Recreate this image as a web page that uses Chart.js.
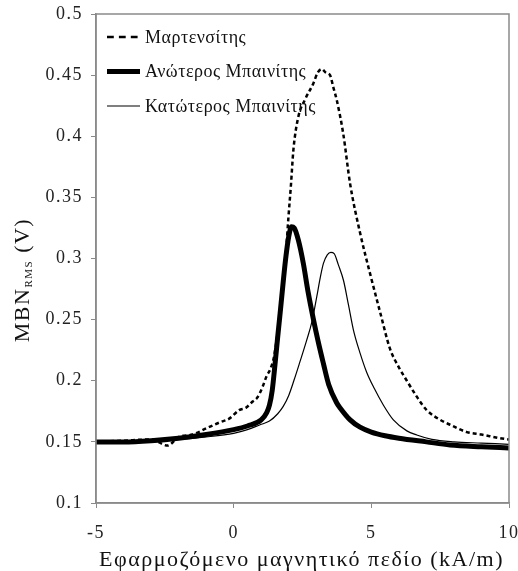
<!DOCTYPE html>
<html lang="el">
<head>
<meta charset="UTF-8">
<title>MBN RMS</title>
<script src="https://cdn.jsdelivr.net/npm/chart.js@4.4.1/dist/chart.umd.min.js"></script>
<style>
  body { margin: 0; background: #fff; }
  #wrap { width: 518px; height: 571px; }
</style>
</head>
<body>
<div id="wrap"><canvas id="mbnChart" width="518" height="571"></canvas></div>
<script>
// Μαρτενσίτης (dashed)
const martX = [-5, -4, -3, -2.4, -2, -1.5, -1, -0.5, -0.16, 0.2, 0.45, 0.69, 0.85, 1.05, 1.2, 1.32, 1.45, 1.6, 1.75, 1.9, 1.99, 2.08, 2.17, 2.35, 2.59, 2.89, 3.05, 3.2, 3.35, 3.5, 3.62, 3.74, 3.98, 4.23, 4.59, 4.95, 5.32, 5.68, 6.0, 6.29, 6.65, 7.01, 7.5, 7.86, 8.47, 9.0, 9.68, 10];
const martY = [0.150, 0.151, 0.152, 0.147, 0.154, 0.156, 0.161, 0.166, 0.169, 0.176, 0.178, 0.183, 0.186, 0.195, 0.204, 0.209, 0.218, 0.240, 0.270, 0.305, 0.334, 0.360, 0.389, 0.416, 0.430, 0.443, 0.452, 0.455, 0.452, 0.450, 0.440, 0.430, 0.402, 0.361, 0.321, 0.288, 0.256, 0.226, 0.211, 0.200, 0.187, 0.176, 0.168, 0.164, 0.158, 0.156, 0.153, 0.152];

// Ανώτερος Μπαινίτης (thick)
const upperX = [-5, -4, -3, -2, -1, 0, 0.5, 1.0, 1.2, 1.3, 1.4, 1.5, 1.6, 1.7, 1.8, 1.9, 2.0, 2.1, 2.2, 2.35, 2.53, 2.7, 2.89, 3.07, 3.26, 3.45, 3.74, 3.86, 4.23, 4.59, 5, 5.5, 6, 7, 7.86, 9, 10];
const upperY = [0.150, 0.150, 0.151, 0.153, 0.156, 0.160, 0.163, 0.168, 0.174, 0.180, 0.192, 0.213, 0.236, 0.258, 0.281, 0.302, 0.318, 0.326, 0.325, 0.315, 0.296, 0.273, 0.251, 0.232, 0.214, 0.197, 0.182, 0.178, 0.168, 0.162, 0.158, 0.155, 0.153, 0.150, 0.1475, 0.146, 0.145];

// Κατώτερος Μπαινίτης (thin)
const lowerX = [-5, -4, -3, -2, -1, 0, 0.5, 0.96, 1.3, 1.6, 1.8, 2.0, 2.2, 2.4, 2.65, 2.85, 3.02, 3.15, 3.26, 3.4, 3.53, 3.65, 3.8, 3.99, 4.17, 4.35, 4.6, 4.83, 5.1, 5.44, 5.8, 6.29, 6.65, 7.2, 8, 9, 10];
const lowerY = [0.150, 0.150, 0.151, 0.152, 0.154, 0.157, 0.160, 0.164, 0.167, 0.173, 0.179, 0.188, 0.201, 0.215, 0.233, 0.249, 0.269, 0.285, 0.296, 0.303, 0.305, 0.304, 0.295, 0.282, 0.262, 0.2415, 0.222, 0.207, 0.194, 0.180, 0.168, 0.159, 0.1556, 0.152, 0.150, 0.149, 0.148];

const seriesLabels = ['Μαρτενσίτης', 'Ανώτερος Μπαινίτης', 'Κατώτερος Μπαινίτης'];
const xTicks = [-5, 0, 5, 10];
const yTickLabels = ['0.1', '0.15', '0.2', '0.25', '0.3', '0.35', '0.4', '0.45', '0.5'];
const xTitle = 'Εφαρμοζόμενο μαγνητικό πεδίο (kA/m)';

const toPoints = (xs, ys) => xs.map((x, i) => ({ x: x, y: ys[i] }));
const serif = 'Liberation Serif';

// frame, legend and axis titles
const framePlugin = {
  id: 'frame',
  beforeDraw(chart) {
    chart.ctx.letterSpacing = '1.5px';
  },
  afterDraw(chart) {
    const { ctx, chartArea: a } = chart;
    ctx.save();
    ctx.strokeStyle = '#8a8a8a';
    ctx.lineWidth = 1.5;
    ctx.strokeRect(a.left, a.top, a.right - a.left, a.bottom - a.top);

    // legend inside the plot, top-left
    ctx.letterSpacing = '0.5px';
    ctx.font = '18px "' + serif + '"';
    ctx.fillStyle = '#111';
    ctx.textBaseline = 'middle';
    ctx.textAlign = 'left';
    chart.data.datasets.forEach((ds, i) => {
      const y = a.top + 23 + i * 34.5;
      ctx.save();
      ctx.strokeStyle = ds.borderColor;
      ctx.lineWidth = ds.borderWidth;
      ctx.setLineDash((ds.borderDash || []).map(d => d * 1.7));
      ctx.beginPath();
      ctx.moveTo(a.left + 11, y);
      ctx.lineTo(a.left + 44, y);
      ctx.stroke();
      ctx.restore();
      ctx.fillText(ds.label, a.left + 49, y + 1);
    });

    // x title
    ctx.letterSpacing = '1.5px';
    ctx.font = '22px "' + serif + '"';
    ctx.textAlign = 'center';
    ctx.fillText(xTitle, (a.left + a.right) / 2 - 1, 560);

    // MBN_RMS (V)
    const big = '22px "' + serif + '"';
    const small = '11px "' + serif + '"';
    ctx.font = big;
    const w1 = ctx.measureText('MBN').width;
    const w3 = ctx.measureText(' (V)').width;
    ctx.font = small;
    const w2 = ctx.measureText('RMS').width;
    const total = w1 + w2 + w3;
    ctx.translate(23, 280);
    ctx.rotate(-Math.PI / 2);
    ctx.textAlign = 'left';
    let x = -total / 2;
    ctx.font = big;
    ctx.fillText('MBN', x, 0);
    x += w1;
    ctx.font = small;
    ctx.fillText('RMS', x, 6);
    x += w2;
    ctx.font = big;
    ctx.fillText(' (V)', x, 0);
    ctx.restore();
    ctx.letterSpacing = '0px';
  }
};

new Chart(document.getElementById('mbnChart'), {
  type: 'line',
  data: {
    datasets: [
      {
        label: seriesLabels[0],
        data: toPoints(martX, martY),
        borderColor: '#000',
        borderWidth: 2.5,
        borderDash: [4, 3],
        cubicInterpolationMode: 'monotone'
      },
      {
        label: seriesLabels[1],
        data: toPoints(upperX, upperY),
        borderColor: '#000',
        borderWidth: 5,
        cubicInterpolationMode: 'monotone'
      },
      {
        label: seriesLabels[2],
        data: toPoints(lowerX, lowerY),
        borderColor: '#000',
        borderWidth: 1.2,
        cubicInterpolationMode: 'monotone'
      }
    ]
  },
  options: {
    responsive: false,
    animation: false,
    elements: { point: { radius: 0 } },
    layout: { padding: { top: 14, right: 9, left: 0, bottom: 0 } },
    plugins: {
      tooltip: { enabled: false },
      legend: { display: false }
    },
    scales: {
      x: {
        type: 'linear',
        min: -5,
        max: 10,
        afterBuildTicks: s => { s.ticks = xTicks.map(v => ({ value: v })); },
        afterFit: s => { s.height = 68; s.paddingLeft = 0; s.paddingRight = 0; },
        grid: { drawOnChartArea: false, tickLength: 5, color: '#8a8a8a' },
        border: { color: '#8a8a8a', width: 1.5 },
        ticks: { color: '#222', padding: 14, maxRotation: 0, font: { family: serif, size: 18 } }
      },
      y: {
        min: 0.1,
        max: 0.5,
        afterBuildTicks: s => { s.ticks = yTickLabels.map(t => ({ value: parseFloat(t) })); },
        afterFit: s => { s.width = 96; s.paddingTop = 0; s.paddingBottom = 0; },
        grid: { drawOnChartArea: false, tickLength: 5, color: '#8a8a8a' },
        border: { color: '#8a8a8a', width: 1.5 },
        ticks: {
          color: '#222',
          padding: 8,
          font: { family: serif, size: 18 },
          callback: (v, i) => yTickLabels[i]
        }
      }
    }
  },
  plugins: [framePlugin]
});
</script>
</body>
</html>
